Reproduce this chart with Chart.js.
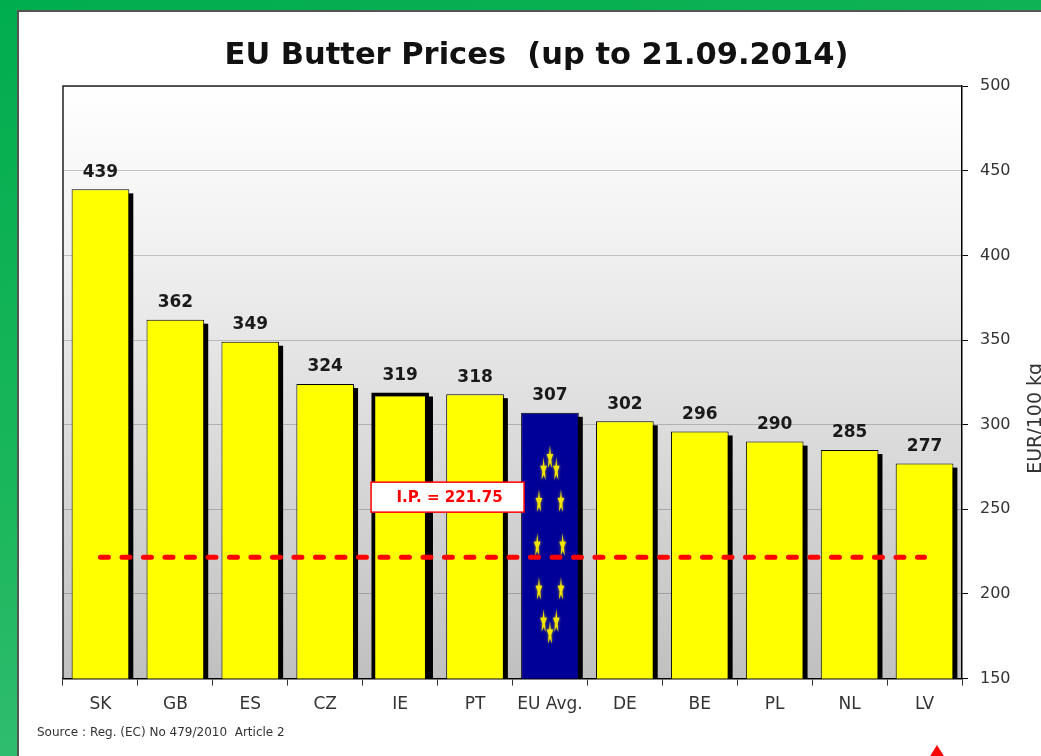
<!DOCTYPE html>
<html>
<head>
<meta charset="utf-8">
<script src="https://cdn.jsdelivr.net/npm/chart.js@4.4.1/dist/chart.umd.min.js"></script>
<style>
  html, body { margin: 0; padding: 0; }
  body { width: 1041px; height: 756px; overflow: hidden; position: relative;
         background: linear-gradient(165deg, #00ad4e 0%, #1cb75c 50%, #45c285 100%); }
  #panel { position: absolute; left: 17px; top: 10px; width: 1024px; height: 746px;
           background: #ffffff; border-left: 2px solid #555; border-top: 2px solid #555; box-sizing: border-box; }
  #chart { position: absolute; left: 0; top: 0; }
  #source { position: absolute; left: 37px; top: 724px; font: 12px "DejaVu Sans", Verdana, sans-serif; color: #333; white-space: pre; line-height: 16px; }
  #tri { position: absolute; left: 927px; top: 745px; width: 0; height: 0;
         border-left: 10px solid transparent; border-right: 10px solid transparent; border-bottom: 16px solid #ff0000; }
</style>
</head>
<body>
<div id="panel"></div>
<canvas id="chart" width="1041" height="756"></canvas>
<div id="source">Source : Reg. (EC) No 479/2010  Article 2</div>
<div id="tri"></div>
<script>
// ---- data ----
const categories = ['SK', 'GB', 'ES', 'CZ', 'IE', 'PT', 'EU Avg.', 'DE', 'BE', 'PL', 'NL', 'LV'];
const prices = [439, 362, 349, 324, 319, 318, 307, 302, 296, 290, 285, 277];
const interventionPrice = 221.75;
const interventionLabel = 'I.P. = 221.75';
const yMin = 150, yMax = 500, yStep = 50;
const titleText = 'EU Butter Prices  (up to 21.09.2014)';
const yAxisTitle = 'EUR/100 kg';

const ipLine = categories.map(() => interventionPrice);
const FONT = '"DejaVu Sans", Verdana, sans-serif';

function drawStar(ctx, x, y) {
  ctx.save();
  ctx.translate(x, y);
  ctx.scale(0.32, 1.15);
  ctx.beginPath();
  for (let i = 0; i < 10; i++) {
    const r = i % 2 === 0 ? 11 : 4.4;
    const a = -Math.PI / 2 + i * Math.PI / 5;
    ctx.lineTo(r * Math.cos(a), r * Math.sin(a));
  }
  ctx.closePath();
  ctx.fill();
  ctx.restore();
}

const decor = {
  id: 'decor',
  beforeDraw(chart) {
    const { ctx, chartArea: a } = chart;
    const g = ctx.createLinearGradient(0, a.top, 0, a.bottom);
    g.addColorStop(0, '#ffffff');
    g.addColorStop(0.25, '#f2f2f2');
    g.addColorStop(1, '#c0c0c0');
    ctx.save();
    ctx.fillStyle = g;
    ctx.fillRect(a.left, a.top, a.right - a.left, a.bottom - a.top);
    ctx.restore();
  },
  beforeDatasetsDraw(chart) {
    const { ctx, chartArea: a } = chart;
    const meta = chart.getDatasetMeta(1);
    ctx.save();
    ctx.beginPath();
    ctx.rect(a.left, a.top, a.right - a.left, a.bottom - a.top);
    ctx.clip();
    ctx.fillStyle = '#000';
    meta.data.forEach(el => {
      const w = el.width;
      ctx.fillRect(el.x - w / 2 + 4, el.y + 4, w, a.bottom - el.y);
    });
    ctx.restore();
  },
  afterDatasetDraw(chart, args) {
    if (args.index !== 1) return;
    const { ctx, chartArea: a } = chart;
    const meta = chart.getDatasetMeta(1);
    // EU flag stars on EU Avg. bar
    const eu = meta.data[categories.indexOf('EU Avg.')];
    const bottom = a.bottom;
    const cx = eu.x, cy = (eu.y + bottom) / 2;
    const rx = eu.width * 0.22, ry = (bottom - eu.y) * 0.33;
    ctx.save();
    ctx.fillStyle = '#f0e400';
    ctx.shadowColor = 'rgba(240,228,0,0.7)';
    ctx.shadowBlur = 3;
    for (let k = 0; k < 12; k++) {
      const t = k * Math.PI / 6;
      drawStar(ctx, cx + rx * Math.sin(t), cy - ry * Math.cos(t));
    }
    ctx.restore();
    // value labels
    ctx.save();
    ctx.font = 'bold 17px ' + FONT;
    ctx.fillStyle = '#1a1a1a';
    ctx.textAlign = 'center';
    ctx.textBaseline = 'middle';
    meta.data.forEach((el, i) => {
      ctx.fillText(String(prices[i]), el.x, el.y - 17);
    });
    ctx.restore();
  },
  afterDatasetsDraw(chart) {
    const { ctx, chartArea: a, scales } = chart;
    // plot border top & left
    ctx.save();
    ctx.strokeStyle = '#222';
    ctx.lineWidth = 1.5;
    ctx.beginPath();
    ctx.moveTo(a.left, a.bottom);
    ctx.lineTo(a.left, a.top);
    ctx.lineTo(a.right, a.top);
    ctx.stroke();
    ctx.restore();
    // I.P. label box
    const x = (scales.x.getPixelForValue(4) + scales.x.getPixelForValue(5)) / 2 + 10;
    const y = scales.y.getPixelForValue(interventionPrice) - 60;
    const w = 153, h = 30;
    ctx.save();
    ctx.fillStyle = '#ffffff';
    ctx.fillRect(x - w / 2, y - h / 2, w, h);
    ctx.strokeStyle = '#ff0000';
    ctx.lineWidth = 1.5;
    ctx.strokeRect(x - w / 2, y - h / 2, w, h);
    ctx.font = 'bold 15px ' + FONT;
    ctx.fillStyle = '#ff0000';
    ctx.textAlign = 'center';
    ctx.textBaseline = 'middle';
    ctx.fillText(interventionLabel, x + 2, y + 1);
    ctx.restore();
  },
  afterDraw(chart) {
    const { ctx, chartArea: a } = chart;
    ctx.save();
    ctx.translate(a.right + 74, (a.top + a.bottom) / 2 + 36);
    ctx.rotate(-Math.PI / 2);
    ctx.font = '19px ' + FONT;
    ctx.fillStyle = '#333';
    ctx.textAlign = 'center';
    ctx.textBaseline = 'middle';
    ctx.fillText(yAxisTitle, 0, 0);
    ctx.restore();
  }
};

new Chart(document.getElementById('chart'), {
  data: {
    labels: categories,
    datasets: [
      {
        type: 'line',
        label: 'I.P.',
        data: ipLine,
        borderColor: '#ff0000',
        borderWidth: 5,
        borderDash: [8, 13.5],
        borderCapStyle: 'round',
        pointRadius: 0,
        fill: false,
        order: 0
      },
      {
        type: 'bar',
        label: 'Butter price',
        data: prices,
        backgroundColor: ctx => categories[ctx.dataIndex] === 'EU Avg.' ? '#000099' : '#ffff00',
        borderColor: '#000000',
        borderWidth: ctx => categories[ctx.dataIndex] === 'IE' ? 4 : 1,
        borderSkipped: false,
        barPercentage: 0.77,
        categoryPercentage: 1.0,
        order: 1
      }
    ]
  },
  options: {
    responsive: false,
    animation: false,
    layout: { padding: { left: 63, right: 31, top: 10, bottom: 32 } },
    plugins: {
      legend: { display: false },
      tooltip: { enabled: false },
      title: {
        display: true,
        text: titleText,
        color: '#111',
        font: { family: FONT, size: 30.5, weight: 'bold' },
        padding: { top: 27.5, bottom: 12 }
      }
    },
    scales: {
      x: {
        grid: { display: true, drawOnChartArea: false, drawTicks: true, tickLength: 7, tickColor: '#333', offset: true },
        border: { display: true, color: '#000', width: 1.5 },
        ticks: { color: '#333', font: { family: FONT, size: 17 }, padding: 9, autoSkip: false, maxRotation: 0 }
      },
      y: {
        position: 'right',
        min: yMin,
        max: yMax,
        afterFit: s => { s.width = 48; },
        grid: { color: 'rgba(0,0,0,0.2)', tickColor: '#000', tickLength: 6, lineWidth: 1 },
        border: { display: true, color: '#000', width: 1.5 },
        ticks: { stepSize: yStep, color: '#333', font: { family: FONT, size: 16 }, padding: 12 }
      }
    }
  },
  plugins: [decor]
});
</script>
</body>
</html>
